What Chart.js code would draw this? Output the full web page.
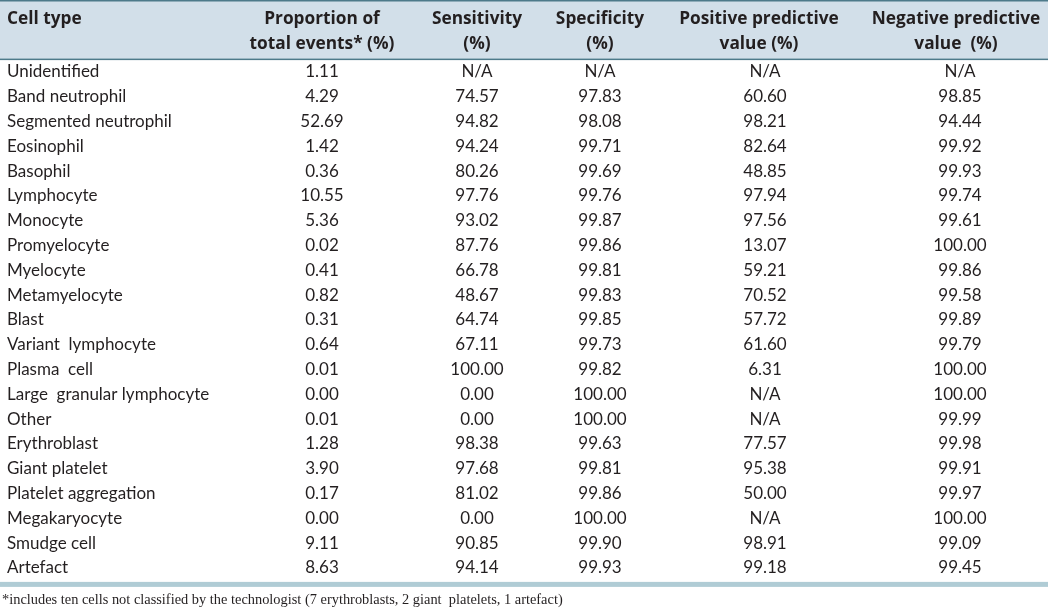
<!DOCTYPE html>
<html>
<head>
<meta charset="utf-8">
<script src="https://cdn.jsdelivr.net/npm/chart.js@4/dist/chart.umd.min.js"></script>
<style>
  html, body { margin: 0; padding: 0; background: #ffffff; }
  #wrap { width: 1048px; height: 609px; position: relative; }
</style>
</head>
<body>
<div id="wrap"><canvas id="c" width="1048" height="609"></canvas></div>
<script>
// ---- data ----
const headerLine1 = ["Cell type", "Proportion of", "Sensitivity", "Specificity", "Positive predictive", "Negative predictive"];
const headerLine2 = ["", "total events* (%)", "(%)", "(%)", "value (%)", "value  (%)"];
const cellTypes = ["Unidentified", "Band neutrophil", "Segmented neutrophil", "Eosinophil", "Basophil", "Lymphocyte", "Monocyte", "Promyelocyte", "Myelocyte", "Metamyelocyte", "Blast", "Variant  lymphocyte", "Plasma  cell", "Large  granular lymphocyte", "Other", "Erythroblast", "Giant platelet", "Platelet aggregation", "Megakaryocyte", "Smudge cell", "Artefact"];
const proportion = [1.11, 4.29, 52.69, 1.42, 0.36, 10.55, 5.36, 0.02, 0.41, 0.82, 0.31, 0.64, 0.01, 0.00, 0.01, 1.28, 3.90, 0.17, 0.00, 9.11, 8.63];
const sensitivity = [null, 74.57, 94.82, 94.24, 80.26, 97.76, 93.02, 87.76, 66.78, 48.67, 64.74, 67.11, 100.00, 0.00, 0.00, 98.38, 97.68, 81.02, 0.00, 90.85, 94.14];
const specificity = [null, 97.83, 98.08, 99.71, 99.69, 99.76, 99.87, 99.86, 99.81, 99.83, 99.85, 99.73, 99.82, 100.00, 100.00, 99.63, 99.81, 99.86, 100.00, 99.90, 99.93];
const ppv = [null, 60.60, 98.21, 82.64, 48.85, 97.94, 97.56, 13.07, 59.21, 70.52, 57.72, 61.60, 6.31, null, null, 77.57, 95.38, 50.00, null, 98.91, 99.18];
const npv = [null, 98.85, 94.44, 99.92, 99.93, 99.74, 99.61, 100.00, 99.86, 99.58, 99.89, 99.79, 100.00, 100.00, 99.99, 99.98, 99.91, 99.97, 100.00, 99.09, 99.45];
const footnote = "*includes ten cells not classified by the technologist (7 erythroblasts, 2 giant  platelets, 1 artefact)";

// ---- layout (not data) ----
const colX = [7, 322, 477, 600, 765, 960];
const headX = [7, 322, 477, 600, 759, 956];
const colAlign = ["left", "center", "center", "center", "center", "center"];
const rowPx = 24.8, firstRowPx = 72;
const yMin = -firstRowPx / rowPx;
const yMax = yMin + 609 / rowPx;

const valueCols = [proportion, sensitivity, specificity, ppv, npv];
const fmt = v => (v === null ? "N/A" : v.toFixed(2));

const cellPoints = [];
cellTypes.forEach((name, r) => {
  cellPoints.push({ x: colX[0], y: r, label: name, col: 0 });
  valueCols.forEach((arr, c) => {
    cellPoints.push({ x: colX[c + 1], y: r, label: fmt(arr[r]), col: c + 1 });
  });
});
const headerPoints = [];
headerLine1.forEach((t, c) => headerPoints.push({ x: headX[c], y: -2.14, label: t, col: c }));
headerLine2.forEach((t, c) => { if (t) headerPoints.push({ x: headX[c], y: -1.13, label: t, col: c }); });

const BODY_FONT = "17px Lato, 'Open Sans', sans-serif";
const HEAD_FONT = "bold 17.3px 'Open Sans', Lato, sans-serif";
const TEXT_COLOR = "#231f20";

const tablePlugin = {
  id: "tablePlugin",
  beforeDatasetsDraw(chart) {
    const ctx = chart.ctx, xs = chart.scales.x, ys = chart.scales.y;
    const left = xs.getPixelForValue(0), right = xs.getPixelForValue(1048);
    const top = ys.getPixelForValue(yMin), headBottom = ys.getPixelForValue(-0.5);
    ctx.save();
    ctx.fillStyle = "#d2dfe9";
    ctx.fillRect(left, top, right - left, headBottom - top);
    ctx.fillStyle = "#4d7a8a";
    ctx.fillRect(left, top, right - left, 1.5);
    ctx.fillRect(left, headBottom - 1, right - left, 1.5);
    const bandTop = ys.getPixelForValue(20.56);
    ctx.fillStyle = "#b0ccd5";
    ctx.fillRect(left, bandTop, right - left, 5);
    ctx.restore();
  },
  afterDatasetsDraw(chart) {
    const ctx = chart.ctx;
    ctx.save();
    ctx.fillStyle = TEXT_COLOR;
    ctx.textBaseline = "middle";
    chart.getDatasetMeta(0).data.forEach((el, i) => {
      const p = chart.data.datasets[0].data[i];
      ctx.font = HEAD_FONT;
      ctx.textAlign = colAlign[p.col];
      ctx.fillText(p.label, el.x, el.y);
    });
    chart.getDatasetMeta(1).data.forEach((el, i) => {
      const p = chart.data.datasets[1].data[i];
      ctx.font = BODY_FONT;
      ctx.textAlign = colAlign[p.col];
      ctx.fillText(p.label, el.x, el.y);
    });
    const ys = chart.scales.y, xs = chart.scales.x;
    ctx.font = "14.4px 'Liberation Serif', 'DejaVu Serif', serif";
    ctx.textAlign = "left";
    ctx.fillText(footnote, xs.getPixelForValue(2), ys.getPixelForValue(21.3));
    ctx.restore();
  }
};

new Chart(document.getElementById("c"), {
  type: "scatter",
  data: {
    datasets: [
      { label: "header", data: headerPoints, pointRadius: 0, pointHoverRadius: 0 },
      { label: "cells", data: cellPoints, pointRadius: 0, pointHoverRadius: 0 }
    ]
  },
  options: {
    responsive: false,
    animation: false,
    events: [],
    layout: { padding: 0 },
    plugins: { legend: { display: false }, tooltip: { enabled: false } },
    scales: {
      x: { type: "linear", min: 0, max: 1048, display: false },
      y: { type: "linear", min: yMin, max: yMax, reverse: true, display: false }
    }
  },
  plugins: [tablePlugin]
});
</script>
</body>
</html>
